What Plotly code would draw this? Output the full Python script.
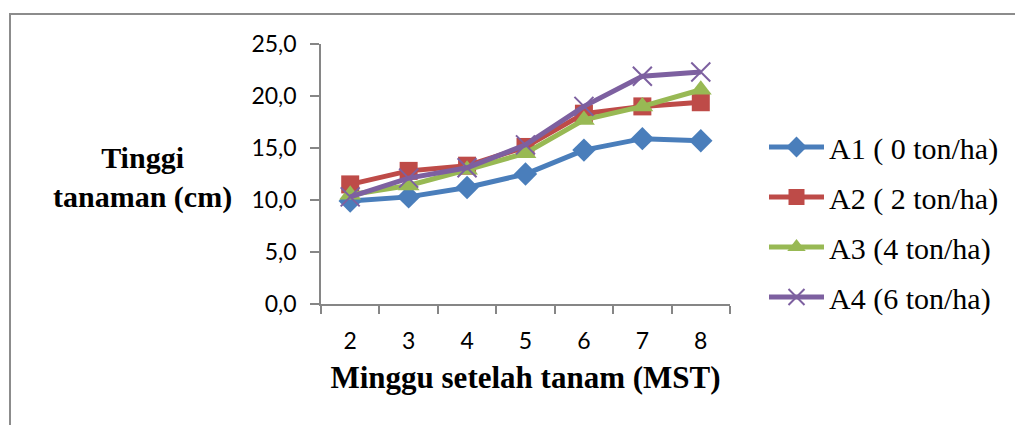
import plotly.graph_objects as go

weeks = [2, 3, 4, 5, 6, 7, 8]
a1 = [9.9, 10.3, 11.2, 12.5, 14.8, 15.9, 15.7]
a2 = [11.5, 12.8, 13.3, 15.1, 18.3, 19.0, 19.4]
a3 = [10.5, 11.4, 12.9, 14.5, 17.7, 19.0, 20.6]
a4 = [10.3, 12.1, 13.1, 15.3, 19.0, 21.9, 22.3]
names = ["A1 ( 0 ton/ha)", "A2 ( 2 ton/ha)", "A3 (4 ton/ha)", "A4 (6 ton/ha)"]
yticks = [0, 5, 10, 15, 20, 25]
ytick_text = ["0,0", "5,0", "10,0", "15,0", "20,0", "25,0"]

colors = ["#4A7EBB", "#BE4B48", "#98B954", "#7D60A0"]
symbols = ["diamond", "square", "triangle-up", "x-thin-open"]
sizes = [18, 18, 19, 19]

fig = go.Figure()
for i, (vals, nm) in enumerate(zip([a1, a2, a3, a4], names)):
    marker = dict(symbol=symbols[i], size=sizes[i], color=colors[i])
    if symbols[i] == "x-thin-open":
        marker["line"] = dict(color=colors[i], width=2)
    fig.add_trace(go.Scatter(
        x=weeks, y=vals, name=nm, mode="lines+markers",
        line=dict(color=colors[i], width=5),
        marker=marker, legendgroup=f"g{i}",
    ))

boundaries = [w - 0.5 for w in weeks] + [weeks[-1] + 0.5]
ytick_marks = [v + 1e-6 for v in yticks]
GREY = "#868686"

# page body has an 8px margin; compensate so the plot area lands at x 321-730, y 44-304
OFF = 8
L, T, PW, PH = 321 - OFF, 44 - OFF, 409, 260
R = 1023 - L - PW
B = 425 - T - PH
fig.update_layout(
    width=1023, height=425,
    margin=dict(l=L, r=R, t=T, b=B, autoexpand=False),
    paper_bgcolor="white", plot_bgcolor="white",
    showlegend=True,
    legend=dict(
        x=(764 - 321) / PW, xanchor="left",
        y=(304 - 121) / PH, yanchor="top",
        font=dict(family="Liberation Serif", size=30, color="black"),
        itemwidth=55, tracegroupgap=8, traceorder="grouped",
        bgcolor="rgba(0,0,0,0)",
    ),
    xaxis=dict(
        range=[boundaries[0], boundaries[-1]],
        tickvals=weeks, ticktext=[str(w) for w in weeks],
        showgrid=False, zeroline=False, showline=True,
        linecolor=GREY, linewidth=1.5,
        ticks="outside", ticklen=16, tickcolor="rgba(0,0,0,0)", tickwidth=1,
        minor=dict(tickvals=boundaries, ticks="outside", ticklen=8,
                   tickcolor=GREY, tickwidth=1.5, showgrid=False),
        tickfont=dict(family="Lato", size=23, color="black"),
        title=dict(text="<b>Minggu setelah tanam (MST)</b>",
                   font=dict(family="Liberation Serif", size=31, color="black"), standoff=13),
    ),
    yaxis=dict(
        range=[0, 25], tickvals=yticks, ticktext=ytick_text,
        showgrid=False, zeroline=False,
        showline=True, linecolor=GREY, linewidth=1.5,
        ticks="outside", ticklen=18, tickcolor="rgba(0,0,0,0)", tickwidth=1,
        minor=dict(tickvals=ytick_marks, ticks="outside", ticklen=9,
                   tickcolor=GREY, tickwidth=1.5, showgrid=False),
        tickfont=dict(family="Lato", size=23, color="black"),
    ),
    annotations=[dict(
        text="<b>Tinggi<br>tanaman (cm)</b>", align="center",
        xref="paper", yref="paper", x=(142 - 321) / PW, xanchor="center",
        y=(304 - 177) / PH, yanchor="middle", showarrow=False,
        font=dict(family="Liberation Serif", size=30, color="black"),
    )],
    shapes=[dict(
        type="rect", xref="paper", yref="paper",
        x0=(10 - 321) / PW, x1=(1060 - 321) / PW,
        y0=(304 - 460) / PH, y1=(304 - 14) / PH,
        line=dict(color="#8C8C8C", width=2), fillcolor="rgba(0,0,0,0)", layer="below",
    )],
)

fig.write_html("out.html")
